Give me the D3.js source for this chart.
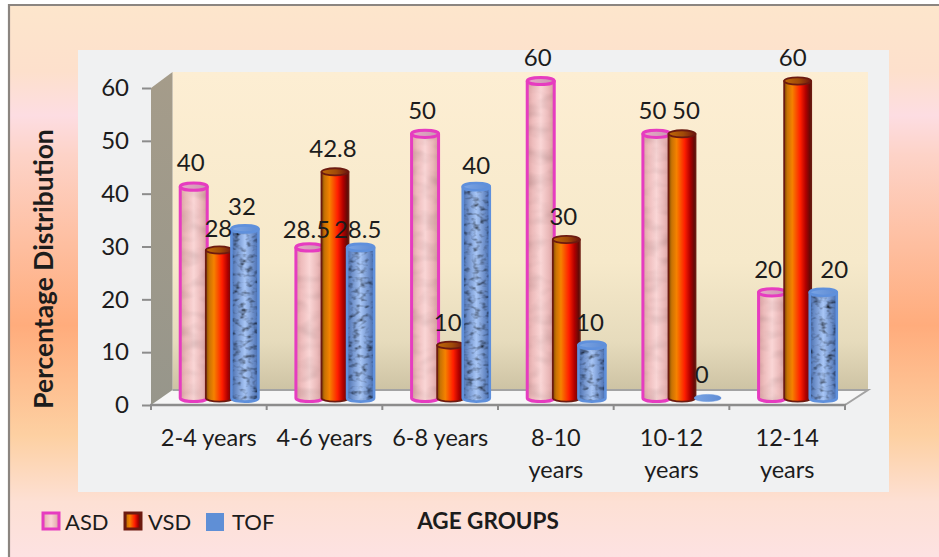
<!DOCTYPE html>
<html>
<head>
<meta charset="utf-8">
<script src="https://cdnjs.cloudflare.com/ajax/libs/d3/7.8.5/d3.min.js"></script>
<style>
html,body{margin:0;padding:0;background:#fff;}
svg{display:block;}
text{font-family:Lato,"Open Sans",sans-serif;fill:#1c1c1c;}
</style>
</head>
<body>
<div id="chart"></div>
<script>
const ageGroups = ["2-4 years","4-6 years","6-8 years","8-10 years","10-12 years","12-14 years"];
const seriesNames = ["ASD","VSD","TOF"];
const asdValues = [40,28.5,50,60,50,20];
const vsdValues = [28,42.8,10,30,50,60];
const tofValues = [32,28.5,40,10,0,20];
const yTicks = [0,10,20,30,40,50,60];
const seriesValues = {ASD:asdValues,VSD:vsdValues,TOF:tofValues};

const W = 939, H = 557;
const svg = d3.select("#chart").append("svg").attr("width",W).attr("height",H);
const defs = svg.append("defs");

function linear(id, stops, horizontal){
  const g = defs.append("linearGradient").attr("id",id)
    .attr("x1",0).attr("y1",0).attr("x2",horizontal?1:0).attr("y2",horizontal?0:1);
  stops.forEach(s=>g.append("stop").attr("offset",s[0]).attr("stop-color",s[1]));
}
linear("pageBg",[[0,"#fde6cc"],[0.12,"#fde0cc"],[0.2,"#fddde2"],[0.27,"#fdd3c8"],[0.58,"#ffac7c"],[0.78,"#fdd0a2"],[0.9,"#fde0d4"],[1,"#fde2e2"]]);
linear("backWall",[[0,"#fdeed3"],[0.6,"#f6e9ca"],[0.85,"#e6dbbc"],[1,"#cdc3a4"]]);
linear("sideWall",[[0,"#a59c8a"],[1,"#97968b"]]);
linear("asdBody",[[0,"#dca4a4"],[0.2,"#eebcbc"],[0.5,"#fad6d6"],[0.8,"#eab8b8"],[1,"#d49c9c"]],true);
linear("vsdBody",[[0,"#7c4a04"],[0.12,"#c87204"],[0.3,"#f58200"],[0.6,"#ff1e00"],[0.8,"#b00000"],[1,"#4e0c08"]],true);
linear("tofBody",[[0,"#4a6eae"],[0.5,"#a8c6f6"],[1,"#456aac"]],true);
linear("vsdTop",[[0,"#c06a08"],[0.55,"#a04a08"],[1,"#6e1410"]],true);
linear("asdTop",[[0,"#e8a8c8"],[1,"#c89ab0"]],true);
linear("tofTop",[[0,"#7aa4e4"],[1,"#5f8cd4"]],true);

// Woven mottling on the TOF cylinders and a fainter one on ASD
function mottled(id, freq, seed, slope, offset){
  const f = defs.append("filter").attr("id",id).attr("x",0).attr("y",0).attr("width",1).attr("height",1);
  f.append("feTurbulence").attr("type","fractalNoise").attr("baseFrequency",freq)
    .attr("numOctaves",2).attr("seed",seed).attr("result","n");
  f.append("feColorMatrix").attr("in","n").attr("type","matrix")
    .attr("values",`${slope} 0 0 0 ${offset} ${slope} 0 0 0 ${offset} ${slope} 0 0 0 ${offset} 0 0 0 0 1`).attr("result","g");
  f.append("feBlend").attr("in","SourceGraphic").attr("in2","g").attr("mode","multiply").attr("result","b");
  f.append("feComposite").attr("in","b").attr("in2","SourceGraphic").attr("operator","in");
}
mottled("tofTexture","0.15 0.22",4,2.3,-0.25);
mottled("asdTexture","0.05 0.08",7,0.45,0.74);

// Page background, frame and inner panel
svg.append("rect").attr("x",9).attr("y",5).attr("width",W-9).attr("height",H-5).attr("fill","url(#pageBg)");
svg.append("path").attr("d",`M9,${H}V5H${W}`).attr("fill","none").attr("stroke","#8b8580").attr("stroke-width",2.2);
svg.append("rect").attr("x",78).attr("y",50).attr("width",811).attr("height",442).attr("fill","#f0f1f2");

// Scales
const x = d3.scaleBand().domain(ageGroups).range([151,845]);
const y = d3.scaleLinear().domain([0,60]).range([405,88]);
const depthX = 21.5, depthY = 15;
const barShiftX = 10.5, barShiftY = 7;
const barStep = 25.6, barR = 13.5, capRy = 3.6;
const seriesX = d3.scalePoint().domain(seriesNames).range([-barStep,barStep]);

// 3D box: floor, back wall and side wall
const wallTop = 72;
const x0 = x.range()[0], x1 = x.range()[1], y0 = y(0), yTop = y(60);
svg.append("path").attr("d",`M${x0},${y0}L${x0+depthX},${y0-depthY}H${x1+depthX+1.5}L${x1},${y0}Z`).attr("fill","#f6f6f6");
svg.append("rect").attr("x",x0+depthX).attr("y",wallTop).attr("width",x1-x0+depthX-20).attr("height",y0-depthY-wallTop).attr("fill","url(#backWall)");
svg.append("path").attr("d",`M${x0},${y0}L${x0+depthX},${y0-depthY}V${wallTop}L${x0},${yTop}Z`).attr("fill","url(#sideWall)");
svg.append("path").attr("d",`M${x0+depthX},${y0-depthY}H${x1+depthX+1.5}L${x1},${y0}`).attr("fill","none").attr("stroke","#a3a3a3").attr("stroke-width",2);

// Axes
const yAxis = d3.axisLeft(y).tickValues(yTicks).tickSize(9).tickPadding(13);
const gy = svg.append("g").attr("transform",`translate(${x0},0)`).call(yAxis);
gy.select(".domain").remove();
gy.selectAll("line").attr("stroke","#8c8c8c").attr("stroke-width",2);
gy.selectAll("text").attr("font-size",24).attr("fill","#1c1c1c").style("font-family","Lato");

const gx = svg.append("g").attr("transform",`translate(0,${y0})`);
gx.append("line").attr("x1",x0-1).attr("x2",x1+1).attr("stroke","#8c8c8c").attr("stroke-width",2.4);
gx.selectAll("line.tick").data([...ageGroups.map(g=>x(g)),x1]).join("line").attr("class","tick")
  .attr("x1",d=>d).attr("x2",d=>d).attr("y1",0).attr("y2",5).attr("stroke","#8c8c8c").attr("stroke-width",2);

// Category labels, the longer ones wrapping onto a second line
const wrapped = {"8-10 years":["8-10","years"],"10-12 years":["10-12","years"],"12-14 years":["12-14","years"]};
ageGroups.forEach(g=>{
  const lines = wrapped[g] || [g];
  lines.forEach((t,i)=>{
    svg.append("text").attr("x",x(g)+x.bandwidth()/2).attr("y",446+i*32)
      .attr("text-anchor","middle").attr("font-size",23.5).text(t);
  });
});

// Cylinders: drawn group by group so later series overlap earlier ones
function bodyPath(cx, top, base){
  return `M${cx-barR},${top}V${base}A${barR},${capRy} 0 0 0 ${cx+barR},${base}V${top}Z`;
}
const styles = {
  ASD:{body:"url(#asdBody)",cap:"url(#asdTop)",stroke:"#e63cc0",sw:3,filter:"url(#asdTexture)"},
  VSD:{body:"url(#vsdBody)",cap:"url(#vsdTop)",stroke:"#6c1a10",sw:1.8,filter:null},
  TOF:{body:"url(#tofBody)",cap:"url(#tofTop)",stroke:"#5f90dc",sw:2.6,filter:"url(#tofTexture)"}
};
ageGroups.forEach((g,gi)=>{
  const cxG = x(g)+x.bandwidth()/2+barShiftX;
  seriesNames.forEach(s=>{
    const v = seriesValues[s][gi], st = styles[s];
    const cx = cxG+seriesX(s), top = y(v)-barShiftY, base = y(0)-barShiftY;
    const bar = svg.append("g").attr("class","bar "+s);
    if(v>0){
      const texture = bar.append("g");
      if(st.filter) texture.attr("filter",st.filter);
      texture.append("path").attr("d",bodyPath(cx,top,base)).attr("fill",st.body);
      bar.append("path").attr("d",bodyPath(cx,top,base)).attr("fill","none")
        .attr("stroke",st.stroke).attr("stroke-width",st.sw).attr("stroke-linejoin","round");
    }
    bar.append("ellipse").attr("cx",cx).attr("cy",top).attr("rx",barR).attr("ry",capRy)
      .attr("fill",st.cap).attr("stroke",st.stroke).attr("stroke-width",v>0?st.sw:0.5);
  });
});

// Value labels sit above each cap; a few were moved by hand to avoid collisions
const labelNudge = {
  "ASD0":[-3,0],"VSD0":[-1,2],"TOF0":[-3,1],
  "ASD1":[-3,6],"VSD1":[-2,0],"TOF1":[-3,6],
  "ASD2":[-3,1],"VSD2":[-3,1],"TOF2":[0,3],
  "ASD3":[-3,0],"VSD3":[-3,1],"TOF3":[-2,1],
  "ASD4":[-4,1],"VSD4":[4,1],"TOF4":[-6,0],
  "ASD5":[-4,1],"VSD5":[-5,0],"TOF5":[11,1]
};
ageGroups.forEach((g,gi)=>{
  const cxG = x(g)+x.bandwidth()/2+barShiftX;
  seriesNames.forEach(s=>{
    const v = seriesValues[s][gi], n = labelNudge[s+gi];
    svg.append("text").attr("x",cxG+seriesX(s)+n[0]).attr("y",y(v)-barShiftY-24+n[1])
      .attr("dy","0.36em").attr("text-anchor","middle").attr("font-size",24).text(v);
  });
});

// Axis titles
svg.append("text").attr("transform","translate(43,269) rotate(-90)").attr("dy","0.36em")
  .attr("text-anchor","middle").attr("font-size",26.4).attr("font-weight",700).attr("fill","#111").text("Percentage Distribution");
svg.append("text").attr("x",488).attr("y",529).attr("text-anchor","middle")
  .attr("font-size",22.5).attr("font-weight",700).attr("fill","#111").text("AGE GROUPS");

// Legend
const legendX = d3.scaleOrdinal().domain(seriesNames).range([43,125,206]);
const legendTextGap = {ASD:22,VSD:23,TOF:26};
seriesNames.forEach(s=>{
  const st = styles[s], lx = legendX(s);
  svg.append("rect").attr("x",lx).attr("y",513).attr("width",s==="TOF"?18:16).attr("height",s==="TOF"?18:16)
    .attr("fill",s==="TOF"?"#5f8fd6":st.body).attr("stroke",s==="TOF"?"none":st.stroke).attr("stroke-width",3);
  svg.append("text").attr("x",lx+legendTextGap[s]).attr("y",529.5).attr("font-size",22).text(s);
});
</script>
</body>
</html>
